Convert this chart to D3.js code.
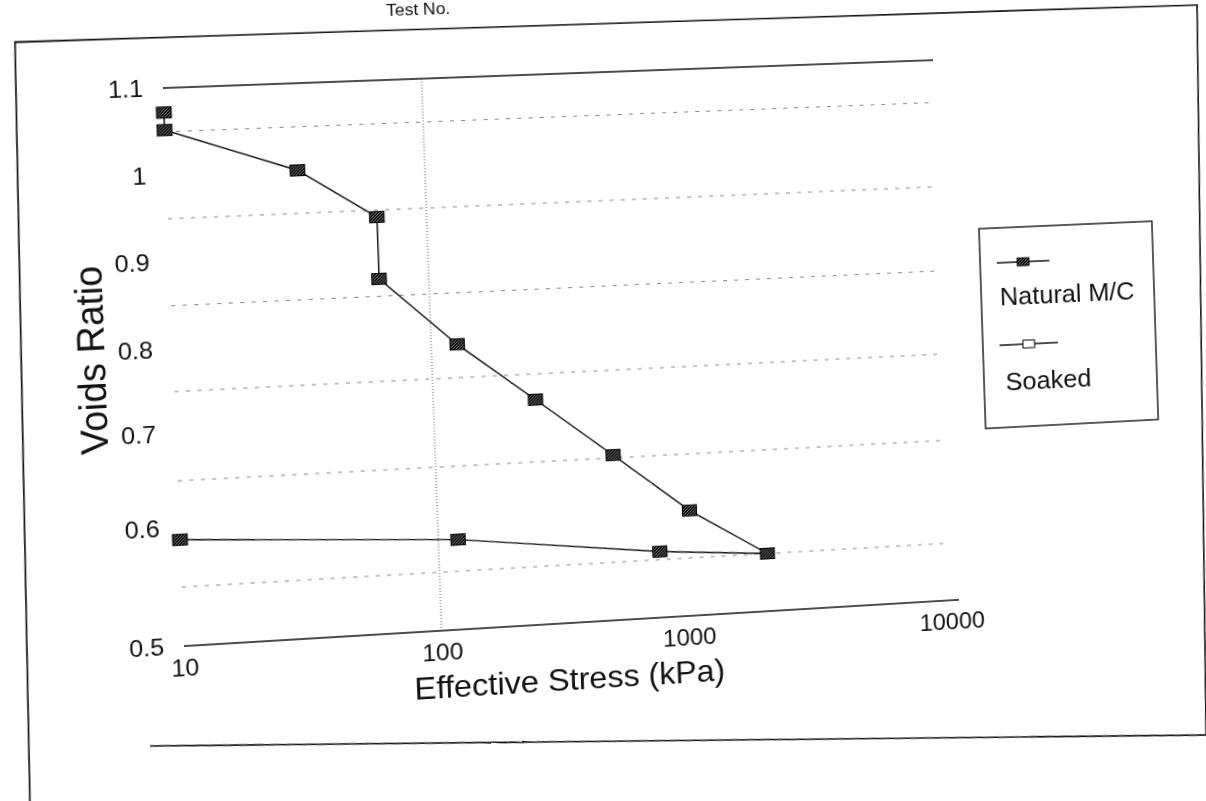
<!DOCTYPE html>
<html><head><meta charset="utf-8">
<script src="https://cdn.jsdelivr.net/npm/d3@7"></script>
<style>
html,body{margin:0;padding:0;background:#fff;overflow:hidden;width:1206px;height:801px}
#c{display:block;position:absolute;left:0;top:0;transform-origin:0 0}
text{font-family:"Liberation Sans",Arial,sans-serif;fill:#111}
</style>
</head><body>
<svg id="c" width="1300" height="900"></svg>
<script>
// ---- data ----
const naturalStress=[10,10,32,64];
const naturalVoids=[1.072,1.052,1.0,0.942];
const soakedStress=[64,127,257,520,1040,2020,780,120,10];
const soakedVoids=[0.87,0.79,0.719,0.653,0.591,0.55,0.557,0.577,0.59];
const xTicks=[10,100,1000,10000];
const yTicks=[0.5,0.6,0.7,0.8,0.9,1.0,1.1];
const yGrid=[0.55,0.65,0.75,0.85,0.95,1.05];
const xGrid=[100];
const seriesNames=["Natural M/C","Soaked"];
const xTitle="Effective Stress (kPa)", yTitle="Voids Ratio", topText="Test No.";

// ---- layout ----
const svg=d3.select("#c");
const x=d3.scaleLog().domain(xTicks).range([183,432,676,941]);
const y=d3.scaleLinear().domain(yTicks).range([646,528,434,350,263,177,90]);

// scan warp (projective) applied to the whole drawing
function homography(src,dst){
  const A=[],b=[];
  for(let i=0;i<4;i++){
    const [sx,sy]=src[i],[dx,dy]=dst[i];
    A.push([sx,sy,1,0,0,0,-sx*dx,-sy*dx]);b.push(dx);
    A.push([0,0,0,sx,sy,1,-sx*dy,-sy*dy]);b.push(dy);
  }
  const n=8;
  for(let c=0;c<n;c++){
    let p=c;for(let r=c+1;r<n;r++)if(Math.abs(A[r][c])>Math.abs(A[p][c]))p=r;
    [A[c],A[p]]=[A[p],A[c]];[b[c],b[p]]=[b[p],b[c]];
    for(let r=0;r<n;r++){if(r===c)continue;const f=A[r][c]/A[c][c];
      for(let k=c;k<n;k++)A[r][k]-=f*A[c][k];b[r]-=f*b[c];}
  }
  return b.map((v,i)=>v/A[i][i]);
}
const h=homography([[184,90],[945,90],[184,646],[945,646]],
                   [[164,88],[937,60],[185,646],[955,600]]);
document.getElementById("c").style.transform=
  `matrix3d(${h[0]},${h[3]},0,${h[6]},${h[1]},${h[4]},0,${h[7]},0,0,1,0,${h[2]},${h[5]},0,1)`;
// inverse mapping (page point -> drawing point), used for the page frame
const M=[[h[0],h[1],h[2]],[h[3],h[4],h[5]],[h[6],h[7],1]];
function inv3(m){const[a,b,c]=m[0],[d,e,f]=m[1],[g,hh,i]=m[2];
  const A=e*i-f*hh,B=-(d*i-f*g),C=d*hh-e*g,det=a*A+b*B+c*C;
  return [[A/det,-(b*i-c*hh)/det,(b*f-c*e)/det],[B/det,(a*i-c*g)/det,-(a*f-c*d)/det],[C/det,-(a*hh-b*g)/det,(a*e-b*d)/det]];}
const Mi=inv3(M);
const unwarp=([px,py])=>{const w=Mi[2][0]*px+Mi[2][1]*py+Mi[2][2];
  return [(Mi[0][0]*px+Mi[0][1]*py+Mi[0][2])/w,(Mi[1][0]*px+Mi[1][1]*py+Mi[1][2])/w];};

const defs=svg.append("defs");
const pat=defs.append("pattern").attr("id","hatch").attr("patternUnits","userSpaceOnUse")
  .attr("width",3).attr("height",3);
pat.append("rect").attr("width",3).attr("height",3).attr("fill","#111");
pat.append("path").attr("d","M0,3L3,0").attr("stroke","#aaa").attr("stroke-width",0.6);

// page frame
const framePts=[[30,806],[15,42],[1197,5],[1206,735],[150,746]].map(unwarp);
svg.append("path").attr("d",d3.line()(framePts)).attr("fill","none")
  .attr("stroke","#111").attr("stroke-width",1.6);

svg.append("text").attr("x",400).attr("y",26).attr("font-size",17).text(topText);

// gridlines
svg.append("g").selectAll("line").data(yGrid).join("line")
  .attr("x1",x(10)).attr("x2",x(10000)).attr("y1",d=>y(d)).attr("y2",d=>y(d))
  .attr("stroke","#888").attr("stroke-width",1).attr("stroke-dasharray","4 7");
svg.append("g").selectAll("line").data(xGrid).join("line")
  .attr("x1",d=>x(d)).attr("x2",d=>x(d)).attr("y1",y(1.1)).attr("y2",y(0.5))
  .attr("stroke","#555").attr("stroke-width",1).attr("stroke-dasharray","1 2");
// top line and x axis line
svg.append("line").attr("x1",x(10)).attr("x2",x(10000)).attr("y1",y(1.1)).attr("y2",y(1.1))
  .attr("stroke","#111").attr("stroke-width",1.6);
svg.append("line").attr("x1",x(10)).attr("x2",x(10000)+8).attr("y1",y(0.5)).attr("y2",y(0.5))
  .attr("stroke","#111").attr("stroke-width",1.6);

// axes labels (d3 axes, domain/ticks hidden)
const xa=svg.append("g").attr("transform",`translate(0,${y(0.5)})`)
  .call(d3.axisBottom(x).tickValues(xTicks).tickFormat(d3.format("d")).tickSize(0).tickPadding(13));
const ya=svg.append("g").attr("transform",`translate(${x(10)-12},0)`)
  .call(d3.axisLeft(y).tickValues(yTicks).tickFormat(d=>String(+d.toFixed(1))).tickSize(0).tickPadding(7));
[xa,ya].forEach(g=>{g.select(".domain").remove();
  g.selectAll("text").attr("font-family","Liberation Sans, Arial, sans-serif").attr("font-size",24).attr("fill","#111");});

svg.append("text").attr("x",557).attr("y",714).attr("text-anchor","middle").attr("font-size",32).text(xTitle);
svg.append("text").attr("transform","translate(118,357) rotate(-90)").attr("text-anchor","middle")
  .attr("font-size",37).text(yTitle);

// series
const nat=naturalStress.map((s,i)=>[s,naturalVoids[i]]);
const soa=soakedStress.map((s,i)=>[s,soakedVoids[i]]);
const line=d3.line().x(d=>x(d[0])).y(d=>y(d[1]));
svg.append("path").attr("d",line(nat.concat([soa[0]]))).attr("fill","none").attr("stroke","#111").attr("stroke-width",1.4);
svg.append("path").attr("d",line(soa)).attr("fill","none").attr("stroke","#111").attr("stroke-width",1.4);
const mw=14,mh=11;
svg.append("g").selectAll("rect").data(nat.concat(soa)).join("rect")
  .attr("x",d=>x(d[0])-mw/2).attr("y",d=>y(d[1])-mh/2).attr("width",mw).attr("height",mh)
  .attr("fill","url(#hatch)").attr("stroke","#000").attr("stroke-width",1);

// legend
const lg=svg.append("g").attr("transform","translate(982,265)");
lg.append("rect").attr("width",178).attr("height",206).attr("fill","#fff").attr("stroke","#111").attr("stroke-width",1.4);
const items=lg.selectAll("g").data(seriesNames).join("g").attr("transform",(d,i)=>`translate(0,${36+i*85})`);
items.append("line").attr("x1",17).attr("x2",(d,i)=>i?77:71).attr("stroke","#111").attr("stroke-width",1.4);
items.append("rect").attr("x",(d,i)=>(i?47:44)-6).attr("y",-4).attr("width",12).attr("height",8)
  .attr("fill",(d,i)=>i?"#fff":"url(#hatch)").attr("stroke","#000");
items.append("text").attr("x",(d,i)=>i?22:19).attr("y",(d,i)=>i?47:44).attr("font-size",26).text(d=>d);
</script>
</body></html>
